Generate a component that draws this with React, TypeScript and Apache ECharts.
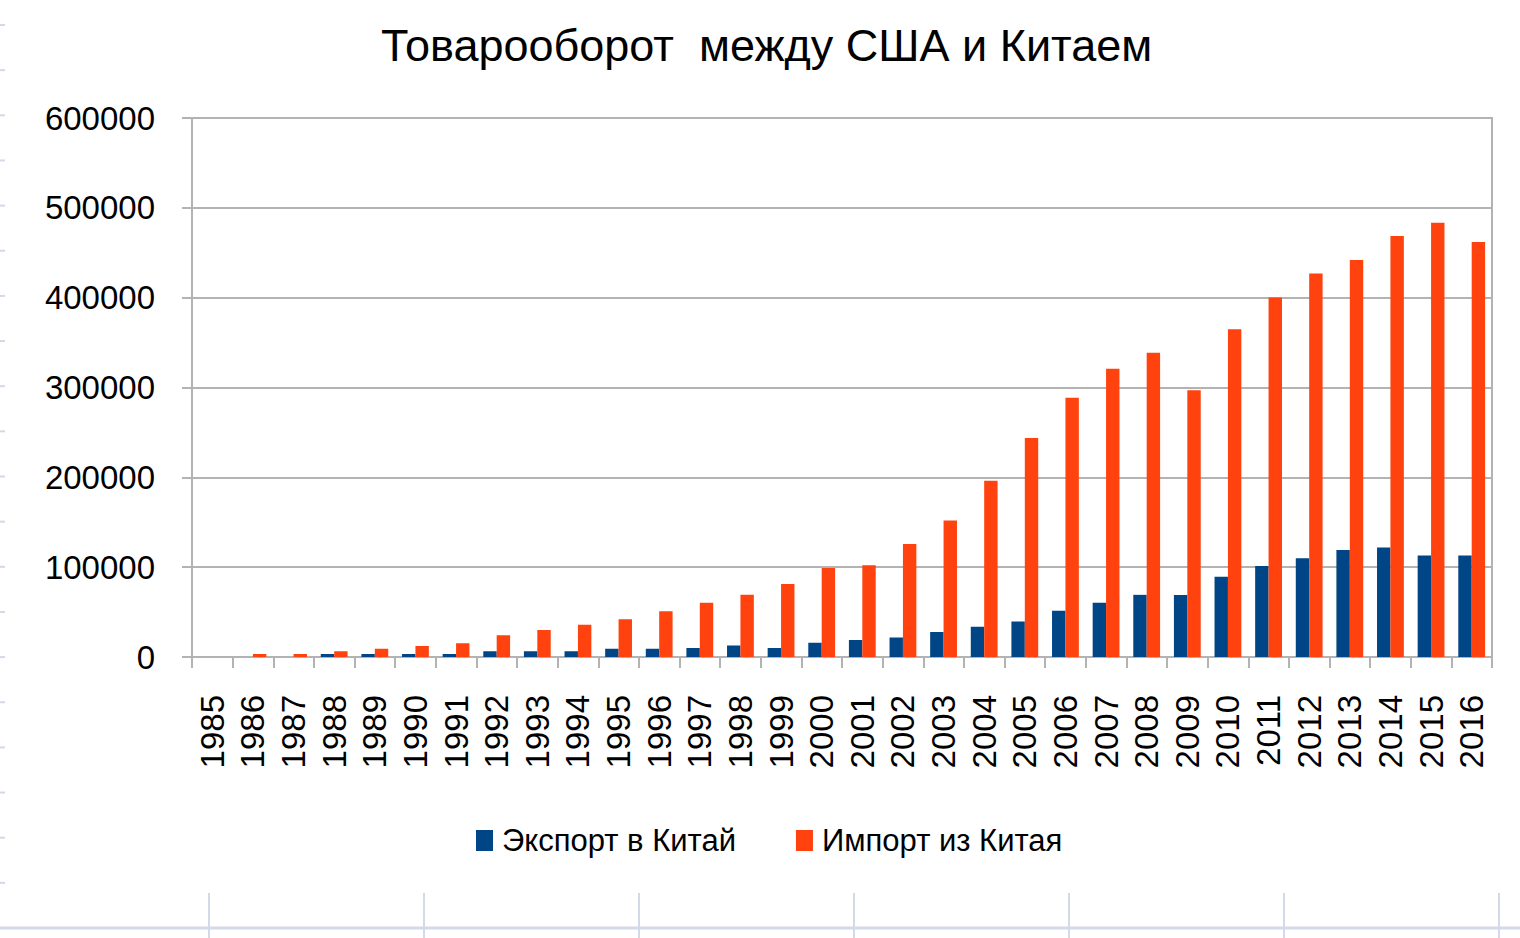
import React, { useEffect, useRef } from "react";
import * as echarts from "echarts";

const years = [
  "1985", "1986", "1987", "1988", "1989", "1990", "1991", "1992", "1993", "1994",
  "1995", "1996", "1997", "1998", "1999", "2000", "2001", "2002", "2003", "2004",
  "2005", "2006", "2007", "2008", "2009", "2010", "2011", "2012", "2013", "2014",
  "2015", "2016",
];

const exportToChina = [
  0, 0, 0, 3300, 3300, 3300, 3300, 6300, 6300, 6300,
  9300, 9300, 10000, 12900, 10000, 15900, 18900, 21800, 27800, 33700,
  39600, 51500, 60400, 69200, 69000, 89400, 101400, 110000, 119100, 122000,
  112900, 112900,
];

const importFromChina = [
  0, 3300, 3300, 6300, 9300, 12200, 15200, 24100, 30000, 36000,
  42000, 51000, 60400, 69400, 81300, 99000, 102000, 125800, 152000, 196300,
  243800, 288700, 321000, 338600, 296800, 364800, 400200, 427000, 441900, 468700,
  483500, 462100,
];

const seriesNames = ["Экспорт в Китай", "Импорт из Китая"];
const titleText = "Товарооборот  между США и Китаем";

const FONT = "'Liberation Sans', Arial, sans-serif";
const AXIS_COLOR = "#b3b3b3";
const SHEET_COLOR = "#d3d9e6";

export default function App() {
  const ref = useRef<HTMLDivElement>(null);

  useEffect(() => {
    if (!ref.current) return;
    const chart = echarts.init(ref.current, null, { renderer: "svg" });

    const graphics: any[] = [];
    // spreadsheet row marks on the left edge
    for (let k = 0; k < 20; k++) {
      const y = 25 + 45.15 * k;
      graphics.push({
        type: "line",
        shape: { x1: 0, y1: y, x2: 5, y2: y },
        style: { stroke: SHEET_COLOR, lineWidth: 2 },
        silent: true,
      });
    }
    // spreadsheet column lines at the bottom
    for (let k = 0; k < 7; k++) {
      const x = 209 + 215 * k;
      graphics.push({
        type: "line",
        shape: { x1: x, y1: 893, x2: x, y2: 938 },
        style: { stroke: SHEET_COLOR, lineWidth: 2 },
        silent: true,
      });
    }
    graphics.push({
      type: "line",
      shape: { x1: 0, y1: 928, x2: 1520, y2: 928 },
      style: { stroke: SHEET_COLOR, lineWidth: 3 },
      silent: true,
    });

    chart.setOption({
      animation: false,
      backgroundColor: "#ffffff",
      title: {
        text: titleText,
        left: 376,
        top: 18,
        textStyle: {
          fontFamily: FONT,
          fontSize: 45,
          fontWeight: "normal",
          color: "#000000",
        },
      },
      legend: {
        data: seriesNames,
        left: 476,
        top: 825,
        padding: 0,
        icon: "rect",
        itemWidth: 17,
        itemHeight: 21,
        itemGap: 60,
        textStyle: {
          fontFamily: FONT,
          fontSize: 31,
          color: "#000000",
          padding: [0, 0, 0, 4],
        },
      },
      grid: {
        left: 192,
        right: 28,
        top: 118,
        height: 539,
        show: true,
        borderColor: AXIS_COLOR,
        borderWidth: 2,
        backgroundColor: "transparent",
      },
      xAxis: {
        type: "category",
        data: years,
        boundaryGap: true,
        axisLine: { show: true, lineStyle: { color: AXIS_COLOR, width: 2 } },
        axisTick: {
          show: true,
          alignWithLabel: false,
          length: 11,
          lineStyle: { color: AXIS_COLOR, width: 2 },
        },
        axisLabel: {
          rotate: 90,
          margin: 38,
          interval: 0,
          fontFamily: FONT,
          fontSize: 33,
          color: "#000000",
        },
        splitLine: { show: false },
      },
      yAxis: {
        type: "value",
        min: 0,
        max: 600000,
        interval: 100000,
        axisLine: { show: true, lineStyle: { color: AXIS_COLOR, width: 2 } },
        axisTick: {
          show: true,
          length: 10,
          lineStyle: { color: AXIS_COLOR, width: 2 },
        },
        axisLabel: {
          margin: 37,
          fontFamily: FONT,
          fontSize: 33,
          color: "#000000",
          formatter: (v: number) => String(v),
        },
        splitLine: { show: true, lineStyle: { color: AXIS_COLOR, width: 2 } },
      },
      series: [
        {
          name: seriesNames[0],
          type: "bar",
          data: exportToChina,
          itemStyle: { color: "#004586" },
          barGap: "0%",
          barCategoryGap: "34%",
        },
        {
          name: seriesNames[1],
          type: "bar",
          data: importFromChina,
          itemStyle: { color: "#ff420e" },
          barGap: "0%",
          barCategoryGap: "34%",
        },
      ],
      graphic: graphics,
    });

    return () => chart.dispose();
  }, []);

  return (
    <div
      ref={ref}
      style={{ position: "fixed", left: 0, top: 0, width: 1520, height: 938 }}
    />
  );
}
